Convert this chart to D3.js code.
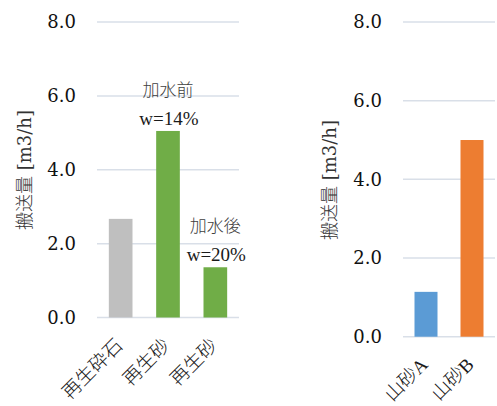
<!DOCTYPE html>
<html><head><meta charset="utf-8">
<script src="https://cdn.jsdelivr.net/npm/d3@7"></script>
<style>body{margin:0;background:#fff}svg{display:block}</style>
</head><body>
<svg id="c" width="497" height="406"></svg>
<script>
const leftCategories = ["再生砕石", "再生砂", "再生砂"];
const leftValues = [2.67, 5.05, 1.36];
const leftColors = ["#BFBFBF", "#70AD47", "#70AD47"];
const leftNotes = [null, ["加水前", "w=14%"], ["加水後", "w=20%"]];
const rightCategories = ["山砂A", "山砂B"];
const rightValues = [1.14, 5.0];
const rightColors = ["#5B9BD5", "#ED7D31"];
const yTicks = [0, 2, 4, 6, 8];
const yTitle = "搬送量 [m3/h]";

const svg = d3.select("#c");
const serifD = "'DejaVu Serif', 'Noto Sans CJK JP', serif";
const serifL = "'Liberation Serif', 'Noto Sans CJK JP', serif";
const cjk = "'Noto Sans CJK JP', sans-serif";

function panel(opt) {
  const g = svg.append("g");
  const y = d3.scaleLinear().domain([0, 8]).range([opt.y0, opt.y1]);
  const x = d3.scaleBand().domain(d3.range(opt.cats.length)).range([opt.x0, opt.x1])
    .paddingInner(0.5).paddingOuter(0.25);
  g.selectAll("line.grid").data(yTicks).join("line")
    .attr("x1", opt.x0).attr("x2", opt.x1)
    .attr("y1", d => y(d)).attr("y2", d => y(d))
    .attr("stroke", "#D9DFE8").attr("stroke-width", 1.5);
  const ax = g.append("g").attr("transform", `translate(${opt.x0},0)`)
    .call(d3.axisLeft(y).tickValues(yTicks).tickFormat(d3.format(".1f")).tickSize(0).tickPadding(21));
  ax.attr("font-family", null).attr("font-size", null);
  ax.select(".domain").remove();
  ax.selectAll("text").style("font-family", serifD).style("font-size", "18px").attr("fill", "#111");
  g.selectAll("rect.bar").data(opt.vals).join("rect")
    .attr("x", (d, i) => x(i)).attr("width", x.bandwidth())
    .attr("y", d => y(d)).attr("height", d => y(0) - y(d))
    .attr("fill", (d, i) => opt.colors[i]);
  g.selectAll("text.xl").data(opt.cats).join("text")
    .attr("transform", (d, i) => `translate(${x(i) + x.bandwidth() / 2 + 3},${y(0) + 29}) rotate(-45)`)
    .attr("text-anchor", "end")
    .style("font-family", serifL).style("font-size", "19px").style("font-weight", 300).attr("fill", "#1a1a1a")
    .text(d => d);
  svg.append("text")
    .attr("transform", `translate(${opt.tx},${opt.ty}) rotate(-90)`)
    .attr("text-anchor", "middle").attr("dy", "0.35em")
    .style("font-family", serifD).style("font-size", "18px").style("font-weight", 300).attr("fill", "#333")
    .text(yTitle);
  return {g, x, y};
}

const L = panel({cats: leftCategories, vals: leftValues, colors: leftColors,
  x0: 97, x1: 239, y0: 317.5, y1: 22, tx: 25, ty: 170});
const R = panel({cats: rightCategories, vals: rightValues, colors: rightColors,
  x0: 403, x1: 495, y0: 336.7, y1: 22, tx: 330, ty: 180});

leftNotes.forEach((n, i) => {
  if (!n) return;
  const cx = L.x(i) + L.x.bandwidth() / 2;
  const top = L.y(leftValues[i]);
  L.g.append("text").attr("x", cx).attr("y", top - 35)
    .attr("text-anchor", "middle").style("font-family", cjk).style("font-size", "17px").style("font-weight", 300).attr("fill", "#404040")
    .text(n[0]);
  L.g.append("text").attr("x", cx + 1).attr("y", top - 6)
    .attr("text-anchor", "middle").style("font-family", serifL).style("font-size", "19px").attr("fill", "#1a1a1a")
    .text(n[1]);
});
</script>
</body></html>
